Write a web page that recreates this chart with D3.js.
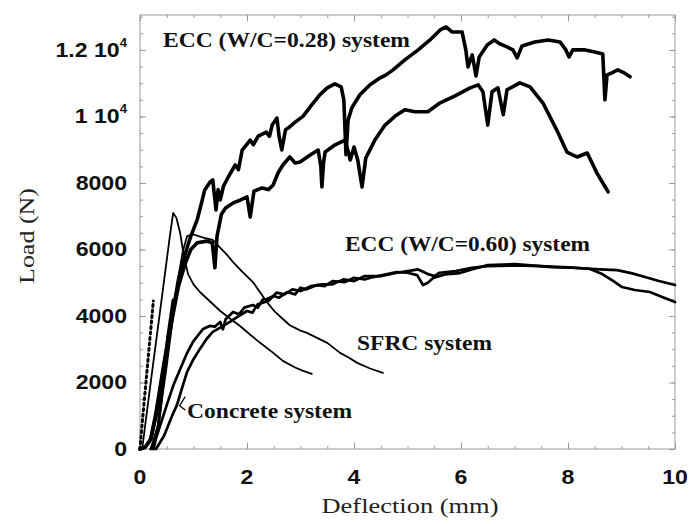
<!DOCTYPE html>
<html lang="en">
<head>
<meta charset="UTF-8">
<title>Load - deflection curves</title>
<script src="https://d3js.org/d3.v7.min.js"></script>
<style>
  body { margin: 0; background: #fff; }
  .frame { fill: none; stroke: #9a9a9a; stroke-width: 1; }
  .ticks path { display: none; }
  .ticks line { stroke: #9a9a9a; stroke-width: 1; }
  .tick-label { font-family: "Liberation Sans", Arial, sans-serif; font-weight: bold; font-size: 21px; fill: #111; }
  .curve { fill: none; stroke: #000; stroke-linejoin: round; stroke-linecap: round; }
  .note { font-family: "Liberation Serif", "Times New Roman", serif; font-weight: bold; font-size: 20px; fill: #111; }
  .axis-title { font-family: "Liberation Serif", "Times New Roman", serif; font-size: 22px; fill: #222; }
</style>
</head>
<body>
<svg id="chart" width="690" height="524"></svg>
<script>
// tick values and labels
const xTicks = [0, 2, 4, 6, 8, 10];
const yTicks = [0, 2000, 4000, 6000, 8000, 10000, 12000];
const yTickLabels = ["0", "2000", "4000", "6000", "8000", "1 10^4", "1.2 10^4"];

// deflection (mm), load (N)
const eccHighA = [[0,0],[0.1,60],[0.2,300],[0.3,1100],[0.45,2600],[0.6,4000],[0.72,5100],[0.85,5900],[0.95,6400],[1.07,6900],[1.15,7400],[1.21,7790],[1.31,8030],[1.36,8090],[1.40,7500],[1.42,7190],[1.46,7800],[1.50,7490],[1.56,7900],[1.64,8150],[1.78,8540],[1.84,8400],[1.91,8990],[2.06,9290],[2.12,9150],[2.21,9410],[2.36,9530],[2.42,9400],[2.47,9740],[2.56,9950],[2.60,9400],[2.65,8990],[2.72,9600],[2.77,9650],[2.90,9830],[3.05,10010],[3.21,10350],[3.36,10650],[3.50,10860],[3.64,10980],[3.76,10890],[3.81,10500],[3.85,8850],[3.89,9890],[3.96,10260],[4.11,10650],[4.30,10950],[4.49,11160],[4.60,11250],[4.73,11400],[4.95,11700],[5.20,12000],[5.42,12300],[5.61,12600],[5.72,12690],[5.83,12540],[6.02,12540],[6.09,12000],[6.13,11490],[6.21,11850],[6.28,11220],[6.34,11790],[6.49,12150],[6.62,12300],[6.73,12180],[6.86,12090],[6.97,12000],[7.05,11760],[7.14,12120],[7.38,12240],[7.63,12300],[7.85,12240],[7.96,12000],[8.02,11790],[8.09,12000],[8.32,12000],[8.50,11940],[8.65,11880],[8.69,10500],[8.73,11250],[8.82,11310],[8.93,11400],[9.05,11310],[9.16,11190]];

const eccHighB = [[0,0],[0.1,60],[0.2,280],[0.3,1000],[0.45,2500],[0.6,3900],[0.72,4900],[0.85,5600],[0.95,6000],[1.07,6200],[1.25,6250],[1.35,6200],[1.40,5450],[1.44,6400],[1.52,7050],[1.60,7250],[1.74,7400],[1.87,7480],[2.0,7580],[2.06,6980],[2.13,7750],[2.28,7850],[2.40,7800],[2.49,7940],[2.58,8300],[2.67,8540],[2.80,8780],[2.90,8600],[2.99,8630],[3.10,8750],[3.18,8840],[3.33,8990],[3.38,8500],[3.40,7880],[3.43,8600],[3.46,8930],[3.64,9140],[3.83,9290],[3.90,8900],[3.93,8690],[4.00,9080],[4.07,8690],[4.15,7880],[4.22,8750],[4.30,9000],[4.39,9290],[4.58,9740],[4.77,10010],[4.95,10200],[5.14,10140],[5.38,10140],[5.61,10410],[5.89,10620],[6.17,10860],[6.32,10950],[6.41,10740],[6.50,9740],[6.58,10740],[6.69,10860],[6.79,10050],[6.86,10800],[7.10,11010],[7.29,10890],[7.53,10410],[7.79,9590],[7.98,8930],[8.17,8780],[8.36,8900],[8.54,8300],[8.75,7730]];

const eccLowA = [[0.2,0],[0.32,420],[0.5,1320],[0.62,1900],[0.75,2400],[0.87,2850],[0.99,3220],[1.1,3450],[1.18,3610],[1.3,3700],[1.4,3680],[1.5,3820],[1.55,3600],[1.6,3900],[1.74,4120],[1.85,4050],[1.95,4250],[2.11,4330],[2.2,4250],[2.3,4500],[2.37,4510],[2.5,4600],[2.6,4550],[2.75,4720],[2.9,4650],[3.0,4850],[3.1,4800],[3.31,4930],[3.45,4900],[3.6,5050],[3.83,5020],[4.0,5150],[4.2,5100],[4.36,5170],[4.6,5250],[4.80,5320],[5.0,5300],[5.18,5230],[5.29,4930],[5.38,5000],[5.48,5140],[5.7,5250],[5.98,5290],[6.2,5400],[6.50,5530],[7.0,5560],[7.25,5530],[7.7,5470],[8.1,5450],[8.5,5410],[8.92,5380],[9.2,5280],[9.44,5170],[9.7,5050],[10.0,4930]];

const eccLowB = [[0.3,0],[0.45,400],[0.6,1000],[0.69,1320],[0.78,1800],[0.88,2320],[1.0,2700],[1.12,3010],[1.24,3300],[1.36,3520],[1.5,3650],[1.68,3820],[1.8,3950],[2.0,4150],[2.1,4100],[2.2,4350],[2.4,4450],[2.55,4700],[2.7,4650],[2.85,4800],[3.0,4750],[3.2,4900],[3.4,4950],[3.6,4950],[3.8,5100],[4.0,5050],[4.2,5200],[4.5,5200],[4.8,5300],[5.0,5350],[5.2,5400],[5.4,5250],[5.5,5200],[5.6,5300],[5.9,5350],[6.2,5450],[6.5,5500],[7.0,5520],[7.5,5500],[8.0,5460],[8.4,5420],[8.64,5260],[8.85,5050],[9.01,4870],[9.25,4780],[9.53,4720],[9.76,4570],[10.0,4420]];

const sfrcA = [[0.04,0],[0.2,2000],[0.4,4450],[0.55,6300],[0.62,7100],[0.68,6950],[0.75,6500],[0.82,5800],[0.9,5250],[1.0,4950],[1.12,4720],[1.3,4450],[1.5,4150],[1.7,3900],[1.87,3700],[2.05,3450],[2.24,3200],[2.49,2890],[2.67,2650],[2.9,2450],[3.05,2350],[3.21,2260]];

const sfrcB = [[0.2,0],[0.35,800],[0.5,2500],[0.62,4000],[0.72,5200],[0.8,5950],[0.88,6400],[1.0,6450],[1.2,6350],[1.36,6290],[1.5,6050],[1.62,5850],[1.74,5620],[1.9,5350],[2.11,5020],[2.25,4700],[2.37,4420],[2.52,4130],[2.67,3910],[2.80,3720],[3.0,3560],[3.12,3490],[3.3,3350],[3.50,3190],[3.74,2890],[3.9,2750],[4.06,2590],[4.3,2420],[4.54,2290]];

const concreteA = [[0,0],[0.02,400],[0.25,4450]];
const concreteB = [[0.25,0],[0.34,660],[0.52,3370],[0.62,4480]];

const svg = d3.select("#chart");

const x = d3.scaleLinear().domain([0, 10]).range([140, 675]);
const y = d3.scaleLinear().domain([0, 13050]).range([449, 15]);

// frame
svg.append("rect").attr("class", "frame")
  .attr("x", x(0)).attr("y", y(13050))
  .attr("width", x(10) - x(0)).attr("height", y(0) - y(13050));

// inward ticks on all four sides
const xMinor = d3.range(0, 10.01, 0.5);
const yMinor = d3.range(0, 13001, 500);
function tickSet(axis, vals, size, tr) {
  svg.append("g").attr("class", "ticks").attr("transform", tr)
    .call(axis.tickValues(vals).tickSize(size).tickFormat(""));
}
tickSet(d3.axisBottom(x), xMinor, -3, `translate(0,${y(0)})`);
tickSet(d3.axisBottom(x), xTicks, -6, `translate(0,${y(0)})`);
tickSet(d3.axisTop(x), xMinor, -3, `translate(0,${y(13050)})`);
tickSet(d3.axisTop(x), xTicks, -6, `translate(0,${y(13050)})`);
tickSet(d3.axisLeft(y), yMinor, -3, `translate(${x(0)},0)`);
tickSet(d3.axisLeft(y), yTicks, -6, `translate(${x(0)},0)`);
tickSet(d3.axisRight(y), yMinor, -3, `translate(${x(10)},0)`);
tickSet(d3.axisRight(y), yTicks, -6, `translate(${x(10)},0)`);

// tick labels
svg.append("g").selectAll("text").data(xTicks).join("text")
  .attr("class", "tick-label")
  .attr("text-anchor", "middle")
  .attr("transform", d => `translate(${x(d)},484) scale(1.1,1)`)
  .text(d => d);

const yl = svg.append("g").selectAll("text").data(yTicks).join("text")
  .attr("class", "tick-label")
  .attr("text-anchor", "end")
  .attr("transform", d => `translate(${x(0) - 13},${y(d) + 7}) scale(1.1,1)`);
yl.each(function(d, i) {
  const parts = yTickLabels[i].split("^");
  const t = d3.select(this);
  t.append("tspan").text(parts[0]);
  if (parts[1]) {
    t.append("tspan").attr("font-size", "12px").attr("dy", -10).text(parts[1]);
  }
});

// curves
const line = d3.line().x(d => x(d[0])).y(d => y(d[1]));
const curves = [
  { data: sfrcA, w: 1.8 },
  { data: sfrcB, w: 1.8 },
  { data: eccLowA, w: 2.7 },
  { data: eccLowB, w: 2.7 },
  { data: eccHighA, w: 3.6 },
  { data: eccHighB, w: 3.6 }
];
svg.append("g").selectAll("path").data(curves).join("path")
  .attr("class", "curve")
  .attr("stroke-width", d => d.w)
  .attr("d", d => line(d.data));

// concrete curves (dotted)
svg.append("path").attr("class", "curve")
  .attr("stroke-width", 3).attr("stroke-dasharray", "2,3.5")
  .attr("d", line(concreteA));
svg.append("path").attr("class", "curve")
  .attr("stroke-width", 3.2)
  .attr("d", line(concreteB));
svg.append("path").attr("class", "curve")
  .attr("stroke", "#fff").attr("stroke-width", 1.3).attr("stroke-dasharray", "2,3")
  .attr("d", line(concreteB));

// small pointer for the concrete label
svg.append("path").attr("class", "curve").attr("stroke-width", 1.3)
  .attr("d", `M${x(0.84)},${y(1560)} L${x(0.74)},${y(1300)} L${x(0.84)},${y(1180)}`);

// annotations
const notes = [
  { t: "ECC (W/C=0.28) system", x: 163, y: 47, w: 247 },
  { t: "ECC (W/C=0.60) system", x: 345, y: 251, w: 245 },
  { t: "SFRC system", x: 357, y: 350, w: 135 },
  { t: "Concrete system", x: 187, y: 418, w: 165 }
];
svg.append("g").selectAll("text").data(notes).join("text")
  .attr("class", "note")
  .attr("x", d => d.x).attr("y", d => d.y)
  .attr("textLength", d => d.w).attr("lengthAdjust", "spacingAndGlyphs")
  .text(d => d.t);

// axis titles
svg.append("text").attr("class", "axis-title")
  .attr("x", 410).attr("y", 513).attr("text-anchor", "middle")
  .attr("textLength", 177).attr("lengthAdjust", "spacingAndGlyphs")
  .text("Deflection (mm)");
svg.append("text").attr("class", "axis-title")
  .attr("transform", "translate(34,236) rotate(-90)")
  .attr("text-anchor", "middle")
  .attr("textLength", 96).attr("lengthAdjust", "spacingAndGlyphs")
  .text("Load (N)");
</script>
</body>
</html>
